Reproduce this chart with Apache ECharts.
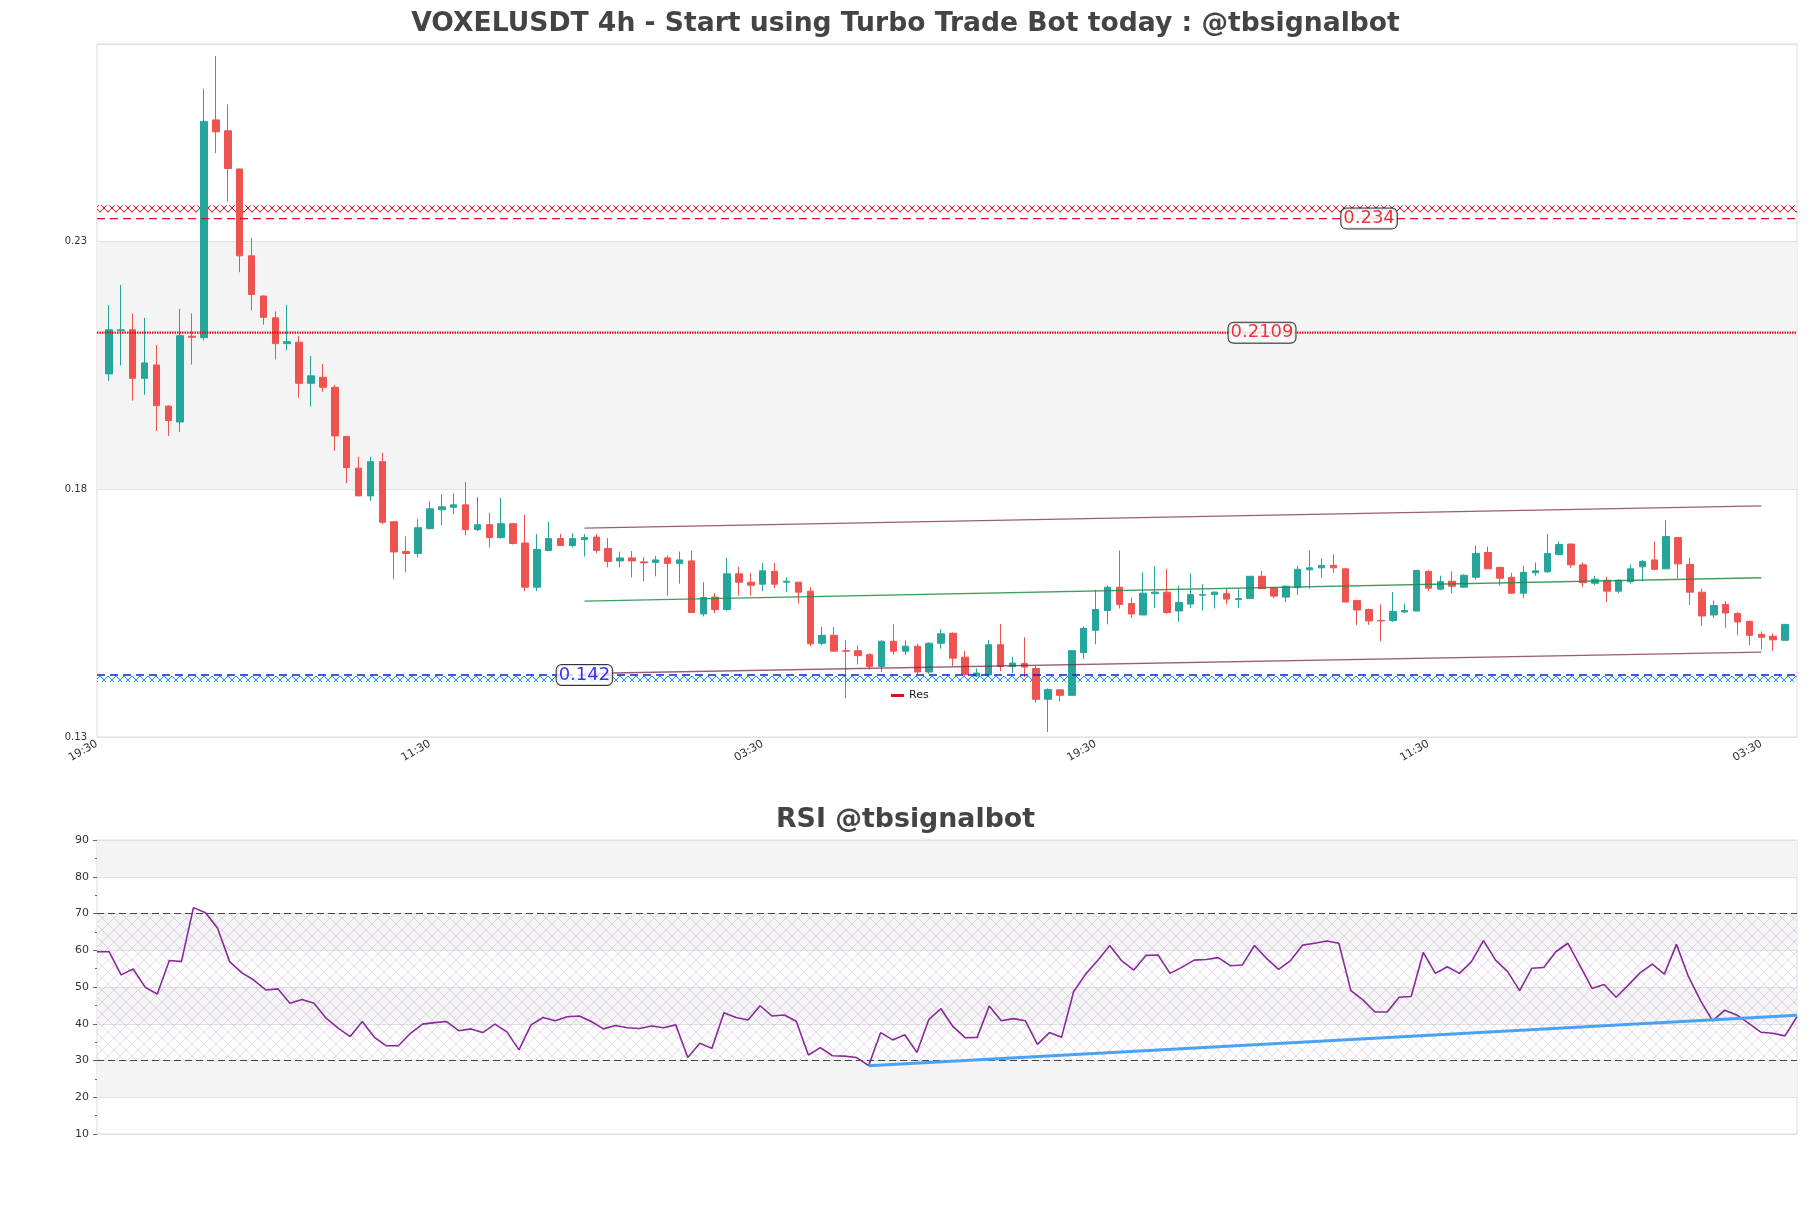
<!DOCTYPE html>
<html><head><meta charset="utf-8">
<script src="https://cdn.jsdelivr.net/npm/echarts@6/dist/echarts.min.js"></script>
<style>html,body{margin:0;padding:0;background:#fff}#c{width:1811px;height:1208px}</style>
</head><body><div id="c"></div>
<script>
// ---- data ----
const xTickLabels = ['19:30','11:30','03:30','19:30','11:30','03:30'];
// OHLC candles [open, close, low, high]
const candles = [
[0.2032,0.2121,0.2018,0.2171],[0.2119,0.2121,0.2049,0.2211],[0.2121,0.2023,0.1978,0.2154],[0.2023,0.2054,0.1990,0.2145],
[0.2050,0.1968,0.1917,0.2090],[0.1967,0.1938,0.1907,0.1969],[0.1935,0.2109,0.1915,0.2163],[0.2108,0.2106,0.2051,0.2154],
[0.2105,0.2541,0.2099,0.2607],[0.2544,0.2520,0.2477,0.2673],[0.2522,0.2446,0.2380,0.2575],[0.2445,0.2270,0.2237,0.2446],
[0.2270,0.2192,0.2160,0.2306],[0.2189,0.2146,0.2131,0.2190],[0.2145,0.2093,0.2061,0.2158],[0.2093,0.2097,0.2080,0.2171],
[0.2096,0.2013,0.1984,0.2108],[0.2013,0.2028,0.1966,0.2068],[0.2025,0.2005,0.1996,0.2052],[0.2005,0.1907,0.1877,0.2010],
[0.1906,0.1843,0.1812,0.1906],[0.1842,0.1786,0.1786,0.1865],[0.1786,0.1855,0.1776,0.1865],[0.1855,0.1733,0.1729,0.1873],
[0.1734,0.1673,0.1618,0.1734],[0.1674,0.1670,0.1632,0.1704],[0.1670,0.1722,0.1662,0.1739],[0.1720,0.1760,0.1719,0.1775],
[0.1758,0.1764,0.1727,0.1789],[0.1763,0.1768,0.1749,0.1791],[0.1768,0.1718,0.1707,0.1814],[0.1718,0.1728,0.1715,0.1784],
[0.1728,0.1702,0.1682,0.1752],[0.1702,0.1730,0.1700,0.1782],[0.1730,0.1690,0.1688,0.1731],[0.1691,0.1602,0.1594,0.1748],
[0.1602,0.1678,0.1594,0.1709],[0.1676,0.1700,0.1675,0.1734],[0.1700,0.1686,0.1686,0.1709],[0.1686,0.1700,0.1682,0.1711],
[0.1698,0.1702,0.1664,0.1709],[0.1703,0.1676,0.1671,0.1709],[0.1680,0.1654,0.1642,0.1701],[0.1655,0.1661,0.1642,0.1674],
[0.1661,0.1655,0.1622,0.1675],[0.1653,0.1651,0.1614,0.1663],[0.1652,0.1657,0.1624,0.1665],[0.1661,0.1650,0.1585,0.1666],
[0.1650,0.1657,0.1609,0.1674],[0.1655,0.1551,0.1551,0.1676],[0.1548,0.1581,0.1543,0.1612],[0.1582,0.1557,0.1550,0.1590],
[0.1557,0.1629,0.1555,0.1661],[0.1629,0.1612,0.1585,0.1643],[0.1612,0.1606,0.1585,0.1631],[0.1608,0.1635,0.1594,0.1651],
[0.1634,0.1608,0.1600,0.1651],[0.1612,0.1614,0.1592,0.1622],[0.1612,0.1592,0.1569,0.1612],[0.1594,0.1488,0.1483,0.1602],
[0.1489,0.1505,0.1485,0.1522],[0.1505,0.1473,0.1473,0.1522],[0.1474,0.1473,0.1378,0.1495],[0.1474,0.1464,0.1446,0.1485],
[0.1466,0.1442,0.1436,0.1469],[0.1442,0.1493,0.1431,0.1495],[0.1493,0.1473,0.1466,0.1527],[0.1473,0.1483,0.1466,0.1495],
[0.1483,0.1431,0.1427,0.1488],[0.1431,0.1489,0.1427,0.1491],[0.1489,0.1508,0.1478,0.1517],[0.1509,0.1459,0.1443,0.1511],
[0.1461,0.1426,0.1422,0.1473],[0.1423,0.1429,0.1421,0.1438],[0.1425,0.1486,0.1424,0.1495],[0.1486,0.1442,0.1433,0.1528],
[0.1442,0.1449,0.1429,0.1462],[0.1448,0.1441,0.1421,0.1501],[0.1438,0.1376,0.1369,0.1443],[0.1376,0.1396,0.1310,0.1398],
[0.1395,0.1384,0.1372,0.1396],[0.1384,0.1474,0.1384,0.1474],[0.1470,0.1519,0.1457,0.1523],[0.1515,0.1557,0.1487,0.1597],
[0.1555,0.1602,0.1527,0.1606],[0.1602,0.1567,0.1559,0.1676],[0.1569,0.1548,0.1540,0.1581],[0.1546,0.1590,0.1546,0.1632],
[0.1589,0.1592,0.1560,0.1644],[0.1592,0.1551,0.1548,0.1639],[0.1554,0.1571,0.1532,0.1605],[0.1568,0.1587,0.1560,0.1630],
[0.1586,0.1587,0.1555,0.1608],[0.1587,0.1592,0.1559,0.1594],[0.1589,0.1578,0.1567,0.1599],[0.1577,0.1579,0.1560,0.1599],
[0.1579,0.1624,0.1578,0.1624],[0.1624,0.1599,0.1599,0.1635],[0.1601,0.1584,0.1580,0.1601],[0.1582,0.1604,0.1572,0.1606],
[0.1601,0.1638,0.1586,0.1645],[0.1637,0.1641,0.1599,0.1676],[0.1641,0.1646,0.1621,0.1660],[0.1646,0.1641,0.1631,0.1668],
[0.1639,0.1572,0.1572,0.1641],[0.1575,0.1556,0.1526,0.1577],[0.1557,0.1534,0.1526,0.1559],[0.1535,0.1534,0.1493,0.1567],
[0.1535,0.1553,0.1532,0.1592],[0.1552,0.1555,0.1550,0.1569],[0.1554,0.1636,0.1554,0.1637],[0.1634,0.1600,0.1594,0.1636],
[0.1598,0.1613,0.1596,0.1625],[0.1614,0.1604,0.1590,0.1634],[0.1602,0.1626,0.1601,0.1628],[0.1622,0.1670,0.1618,0.1686],
[0.1672,0.1639,0.1639,0.1684],[0.1642,0.1620,0.1605,0.1642],[0.1622,0.1590,0.1588,0.1631],[0.1590,0.1632,0.1580,0.1645],
[0.1631,0.1635,0.1625,0.1652],[0.1633,0.1670,0.1631,0.1709],[0.1668,0.1688,0.1666,0.1694],[0.1689,0.1647,0.1641,0.1690],
[0.1647,0.1611,0.1602,0.1652],[0.1610,0.1618,0.1606,0.1625],[0.1616,0.1594,0.1572,0.1623],[0.1594,0.1616,0.1590,0.1618],
[0.1613,0.1639,0.1609,0.1648],[0.1643,0.1654,0.1614,0.1657],[0.1657,0.1638,0.1636,0.1694],[0.1639,0.1704,0.1639,0.1737],
[0.1702,0.1649,0.1620,0.1702],[0.1648,0.1592,0.1566,0.1661],[0.1592,0.1544,0.1524,0.1599],[0.1546,0.1565,0.1540,0.1575],
[0.1567,0.1550,0.1520,0.1574],[0.1549,0.1532,0.1505,0.1552],[0.1533,0.1505,0.1485,0.1535],[0.1507,0.1501,0.1477,0.1513],
[0.1503,0.1496,0.1473,0.1509],[0.1495,0.1527,0.1494,0.1527]
];
const rsiValues = [
59.6,59.6,53.3,54.9,49.9,48.1,57.2,56.9,71.6,70.2,66.0,56.9,53.9,51.9,49.2,49.5,45.6,46.6,45.6,41.5,
38.8,36.5,40.6,36.3,34.0,34.0,37.4,39.9,40.3,40.6,38.1,38.6,37.6,39.9,37.8,32.9,39.7,41.7,40.8,41.9,
42.1,40.6,38.6,39.5,38.9,38.7,39.4,38.9,39.7,30.8,34.7,33.3,43.0,41.7,41.0,44.9,42.1,42.4,40.7,31.5,
33.5,31.3,31.2,30.8,28.6,37.6,35.6,37.0,32.2,41.2,44.1,39.2,36.2,36.3,44.8,40.8,41.4,40.8,34.4,37.6,
36.3,48.7,53.5,57.2,61.3,57.1,54.6,58.6,58.7,53.7,55.4,57.3,57.5,58.0,55.8,56.0,61.3,57.8,54.8,57.2,
61.4,61.9,62.5,61.9,49.0,46.5,43.2,43.2,47.2,47.4,59.4,53.7,55.5,53.7,56.9,62.6,57.3,54.2,49.0,55.1,
55.3,59.6,61.9,55.8,49.6,50.7,47.2,50.5,53.9,56.2,53.5,61.6,52.8,46.3,40.8,43.7,42.4,40.1,37.7,37.4,
36.7,41.9
];
// horizontal levels
const resLevel = 0.2345, resLabel = '0.234';
const midLevel = 0.2115, midLabel = '0.2109';
const supLevel = 0.1425, supLabel = '0.142';
const resBand = [0.2358, 0.2372];
const supBand = [0.1411, 0.1423];
// channel lines [[startIndex, value], [endIndex, value]]
const channelUpper = [[41, 0.1721], [140, 0.1766]];
const channelMid = [[41, 0.1574], [140, 0.1621]];
const channelLower = [[41, 0.1428], [140, 0.1471]];
const rsiTrend = [[64, 28.6], [141, 42.3]];
const labelIdx = { res: 107, mid: 98, sup: 41 };

// ---- build ----
const nSlots = candles.length + 2; // padding slot on each side
const slotCats = Array.from({length: nSlots}, (_, i) => String(i));
const rsiCats = rsiValues.map((_, i) => String(i));
const candleData = candles.map((c, i) => [i + 1, c[0], c[1], c[2], c[3]]);
const rsiData = rsiValues.slice();

function hatch(color, size, lw) {
  const c = document.createElement('canvas');
  c.width = size; c.height = size;
  const g = c.getContext('2d');
  g.strokeStyle = color; g.lineWidth = lw;
  g.beginPath();
  g.moveTo(0, 0); g.lineTo(size, size);
  g.moveTo(size, 0); g.lineTo(0, size);
  g.stroke();
  return c;
}
const FONT = 'DejaVu Sans';
const chart = echarts.init(document.getElementById('c'), null, {renderer: 'canvas'});
const full = (v) => [[0, v], [nSlots - 1, v]];
const labelStyle = (color) => ({
  show: true, position: 'inside', color: color, fontSize: 18, fontFamily: FONT,
  backgroundColor: '#fff', borderColor: '#000', borderWidth: 1, borderRadius: 5,
  padding: [1, 2, 0, 2], lineHeight: 19
});

chart.setOption({
  animation: false,
  backgroundColor: '#fff',
  textStyle: {fontFamily: FONT},
  title: [
    {text: 'VOXELUSDT 4h - Start using Turbo Trade Bot today : @tbsignalbot', left: 'center', top: 6,
     textStyle: {fontSize: 26.6, fontWeight: 'bold', color: '#444', fontFamily: FONT}},
    {text: 'RSI @tbsignalbot', left: 'center', top: 802,
     textStyle: {fontSize: 26.8, fontWeight: 'bold', color: '#444', fontFamily: FONT}}
  ],
  legend: {
    data: [{name: 'Res', icon: 'rect'}], left: 886, top: 685, itemWidth: 13, itemHeight: 3, itemGap: 6,
    textStyle: {fontSize: 11, color: '#222', fontFamily: FONT}
  },
  grid: [
    {left: 97, right: 14, top: 44, height: 693, show: true, borderColor: '#dcdcdc', borderWidth: 1},
    {left: 97, right: 14, top: 840, height: 294, show: true, borderColor: '#dcdcdc', borderWidth: 1}
  ],
  xAxis: [
    {type: 'category', gridIndex: 0, data: slotCats, boundaryGap: false,
     axisLine: {show: false}, axisTick: {show: false}, splitLine: {show: false},
     axisLabel: {interval: 27, rotate: 30, fontSize: 11, color: '#333', margin: 6,
       formatter: (v, i) => xTickLabels[Math.round(i / 28)] || ''}},
    {type: 'category', gridIndex: 1, data: rsiCats, boundaryGap: false,
     axisLine: {show: false}, axisTick: {show: false}, axisLabel: {show: false}, splitLine: {show: false}}
  ],
  yAxis: [
    {type: 'value', gridIndex: 0, min: 0.13, max: 0.2697, interval: 0.05,
     axisLine: {show: false}, axisTick: {show: false},
     axisLabel: {fontSize: 10, color: '#333', showMaxLabel: false, formatter: (v) => v.toFixed(2), margin: 10},
     splitLine: {show: true, lineStyle: {color: '#e2e2e2', width: 1}},
     splitArea: {show: true, areaStyle: {color: ['rgba(255,255,255,0)', '#f4f4f4']}}},
    {type: 'value', gridIndex: 1, min: 10, max: 90, interval: 10,
     axisLine: {show: false},
     axisTick: {show: true, length: 4, inside: false, lineStyle: {color: '#666'}},
     minorTick: {show: true, splitNumber: 2, length: 2, lineStyle: {color: '#666'}},
     axisLabel: {fontSize: 11, color: '#333', margin: 8},
     splitLine: {show: true, lineStyle: {color: '#e2e2e2', width: 1}},
     splitArea: {show: true, areaStyle: {color: ['rgba(255,255,255,0)', '#f4f4f4']}}}
  ],
  series: [
    {name: 'candles', type: 'candlestick', xAxisIndex: 0, yAxisIndex: 0, data: candleData,
     encode: {x: 0, y: [1, 2, 3, 4]}, barWidth: 7,
     itemStyle: {color: '#26a69a', color0: '#ef5350', borderColor: '#26a69a', borderColor0: '#ef5350', borderWidth: 1}},
    {name: 'Res', type: 'line', xAxisIndex: 0, yAxisIndex: 0, data: full(resLevel), symbol: 'none', z: 3,
     color: '#e0101a',
     lineStyle: {color: '#e0101a', width: 1.3, type: [8, 5]},
     markArea: {silent: true, itemStyle: {color: {image: hatch('#e0101a', 8, 1), repeat: 'repeat'}},
       data: [[{yAxis: resBand[0]}, {yAxis: resBand[1]}]]}},
    {name: 'mid', type: 'line', xAxisIndex: 0, yAxisIndex: 0, data: full(midLevel), symbol: 'none', z: 3,
     lineStyle: {color: '#e0101a', width: 2.2, type: [1.5, 1]}},
    {name: 'sup', type: 'line', xAxisIndex: 0, yAxisIndex: 0, data: full(supLevel), symbol: 'none', z: 3,
     lineStyle: {color: '#1020c8', width: 1.3, type: [8, 5]},
     markArea: {silent: true, itemStyle: {color: {image: hatch('#1e90ff', 8, 1), repeat: 'repeat'}},
       data: [[{yAxis: supBand[0]}, {yAxis: supBand[1]}]]}},
    {name: 'chUp', type: 'line', xAxisIndex: 0, yAxisIndex: 0, data: channelUpper, symbol: 'none', z: 4,
     lineStyle: {color: 'rgba(120,40,70,0.75)', width: 1.4}},
    {name: 'chMid', type: 'line', xAxisIndex: 0, yAxisIndex: 0, data: channelMid, symbol: 'none', z: 4,
     lineStyle: {color: 'rgba(30,140,70,0.85)', width: 1.4}},
    {name: 'chLow', type: 'line', xAxisIndex: 0, yAxisIndex: 0, data: channelLower, symbol: 'none', z: 4,
     lineStyle: {color: 'rgba(120,40,70,0.75)', width: 1.4}},
    {name: 'labels', type: 'scatter', xAxisIndex: 0, yAxisIndex: 0, symbolSize: 1, z: 10,
     itemStyle: {color: 'rgba(0,0,0,0)'},
     data: [
       {value: [labelIdx.res, resLevel], label: Object.assign(labelStyle('#e8000b'), {formatter: resLabel})},
       {value: [labelIdx.mid, midLevel], label: Object.assign(labelStyle('#e8000b'), {formatter: midLabel})},
       {value: [labelIdx.sup, supLevel], label: Object.assign(labelStyle('#0000e8'), {formatter: supLabel})}
     ]},
    {name: 'RSI', type: 'line', xAxisIndex: 1, yAxisIndex: 1, data: rsiData, symbol: 'none', z: 5,
     lineStyle: {color: '#8a2a9a', width: 1.6},
     markArea: {silent: true, itemStyle: {color: {image: hatch('rgba(150,90,180,0.22)', 12, 1), repeat: 'repeat'}},
       data: [[{yAxis: 30}, {yAxis: 70}]]},
     markLine: {silent: true, symbol: 'none', label: {show: false},
       lineStyle: {color: '#444', width: 1.2, type: [7, 4]},
       data: [{yAxis: 70}, {yAxis: 30}]}},
    {name: 'rsiTrend', type: 'line', xAxisIndex: 1, yAxisIndex: 1, data: rsiTrend, symbol: 'none', z: 6,
     lineStyle: {color: '#4aa3f2', width: 3}}
  ]
});
</script></body></html>
